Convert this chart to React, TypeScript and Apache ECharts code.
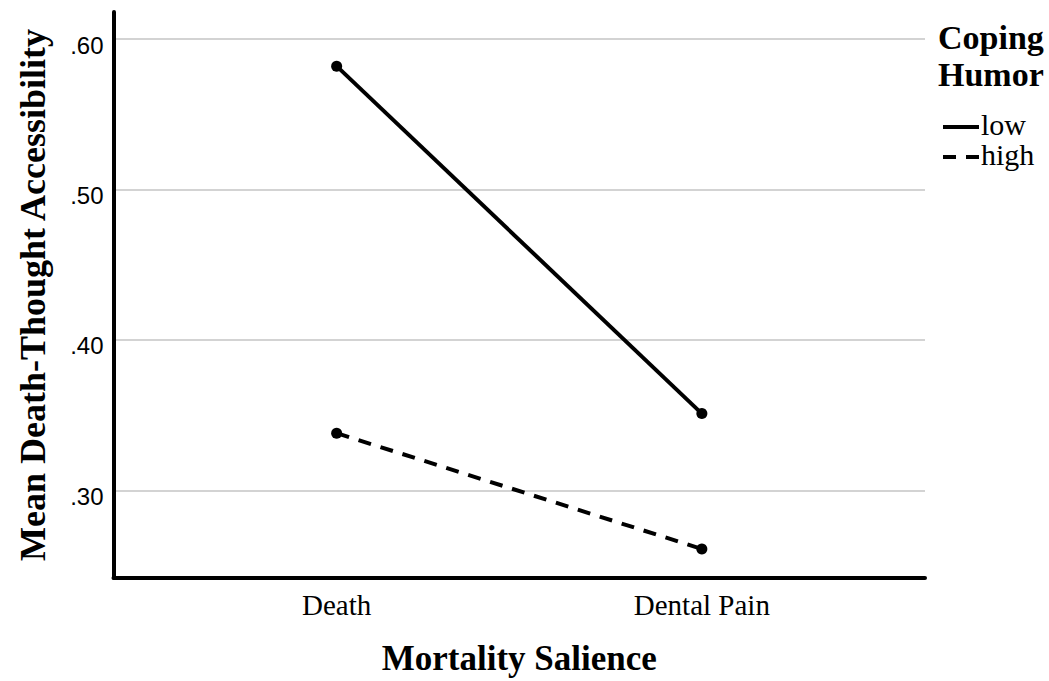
import React, { useEffect, useRef } from "react";
import * as echarts from "echarts";

const categories = ["Death", "Dental Pain"];
const seriesNames = ["low", "high"];
const lowValues = [0.582, 0.351];
const highValues = [0.338, 0.261];
const yTicks = [0.3, 0.4, 0.5, 0.6];
const xTitle = "Mortality Salience";
const yTitle = "Mean Death-Thought Accessibility";
const legendTitle = ["Coping", "Humor"];

const SERIF = "Liberation Serif";
const SANS = "Liberation Sans";

export default function App() {
  const ref = useRef<HTMLDivElement>(null);
  useEffect(() => {
    if (!ref.current) return;
    const chart = echarts.init(ref.current, undefined, { renderer: "svg" });
    const xIdx = categories.map((_, i) => i);
    const option = {
      animation: false,
      backgroundColor: "#ffffff",
      grid: { left: 113.5, right: 124, top: 12, bottom: 99.5, containLabel: false },
      xAxis: {
        type: "value",
        min: -0.611,
        max: 1.611,
        name: xTitle,
        nameLocation: "middle",
        nameGap: 63,
        nameTextStyle: { fontFamily: SERIF, fontWeight: "bold", fontSize: 35, color: "#000" },
        axisLine: { show: true, onZero: false, lineStyle: { color: "#000", width: 4 } },
        axisTick: { show: false, customValues: xIdx },
        splitLine: { show: false },
        axisLabel: {
          customValues: xIdx,
          formatter: (v: number) => categories[Math.round(v)] ?? "",
          fontFamily: SERIF,
          fontSize: 29,
          color: "#000",
          margin: 12,
        },
      },
      yAxis: {
        type: "value",
        min: 0.2417,
        max: 0.618,
        name: yTitle,
        nameLocation: "middle",
        nameGap: 63,
        nameTextStyle: { fontFamily: SERIF, fontWeight: "bold", fontSize: 36, color: "#000" },
        axisLine: { show: true, onZero: false, lineStyle: { color: "#000", width: 4 } },
        axisTick: { show: false, customValues: yTicks },
        splitLine: { show: true, lineStyle: { color: "#d3d3d3", width: 2 } },
        axisLabel: {
          customValues: yTicks,
          formatter: (v: number) => v.toFixed(2).replace(/^0/, ""),
          fontFamily: SANS,
          fontSize: 24,
          color: "#000",
          margin: 10,
          verticalAlign: "top",
          lineHeight: 12,
        },
      },
      series: [
        {
          name: seriesNames[0],
          type: "line",
          data: xIdx.map((i) => [i, lowValues[i]]),
          symbol: "circle",
          symbolSize: 11,
          itemStyle: { color: "#000" },
          lineStyle: { color: "#000", width: 4, type: "solid" },
        },
        {
          name: seriesNames[1],
          type: "line",
          data: xIdx.map((i) => [i, highValues[i]]),
          symbol: "circle",
          symbolSize: 11,
          itemStyle: { color: "#000" },
          lineStyle: { color: "#000", width: 4, type: [13, 10] },
        },
      ],
      graphic: [
        {
          type: "text",
          x: 938,
          y: 56,
          style: {
            text: legendTitle.join("\n"),
            font: `bold 34px "${SERIF}"`,
            lineHeight: 37,
            fill: "#000",
            verticalAlign: "middle",
          },
        },
        {
          type: "line",
          shape: { x1: 943, y1: 127, x2: 979, y2: 127 },
          style: { stroke: "#000", lineWidth: 4 },
        },
        {
          type: "text",
          x: 981,
          y: 124,
          style: { text: seriesNames[0], font: `30px "${SERIF}"`, fill: "#000", verticalAlign: "middle" },
        },
        {
          type: "line",
          shape: { x1: 943, y1: 157, x2: 979, y2: 157 },
          style: { stroke: "#000", lineWidth: 4, lineDash: [13, 10] },
        },
        {
          type: "text",
          x: 981,
          y: 154,
          style: { text: seriesNames[1], font: `30px "${SERIF}"`, fill: "#000", verticalAlign: "middle" },
        },
      ],
    };
    chart.setOption(option as any);
    return () => chart.dispose();
  }, []);
  return (
    <div
      ref={ref}
      style={{ position: "absolute", left: 0, top: 0, width: 1049, height: 681 }}
    />
  );
}
